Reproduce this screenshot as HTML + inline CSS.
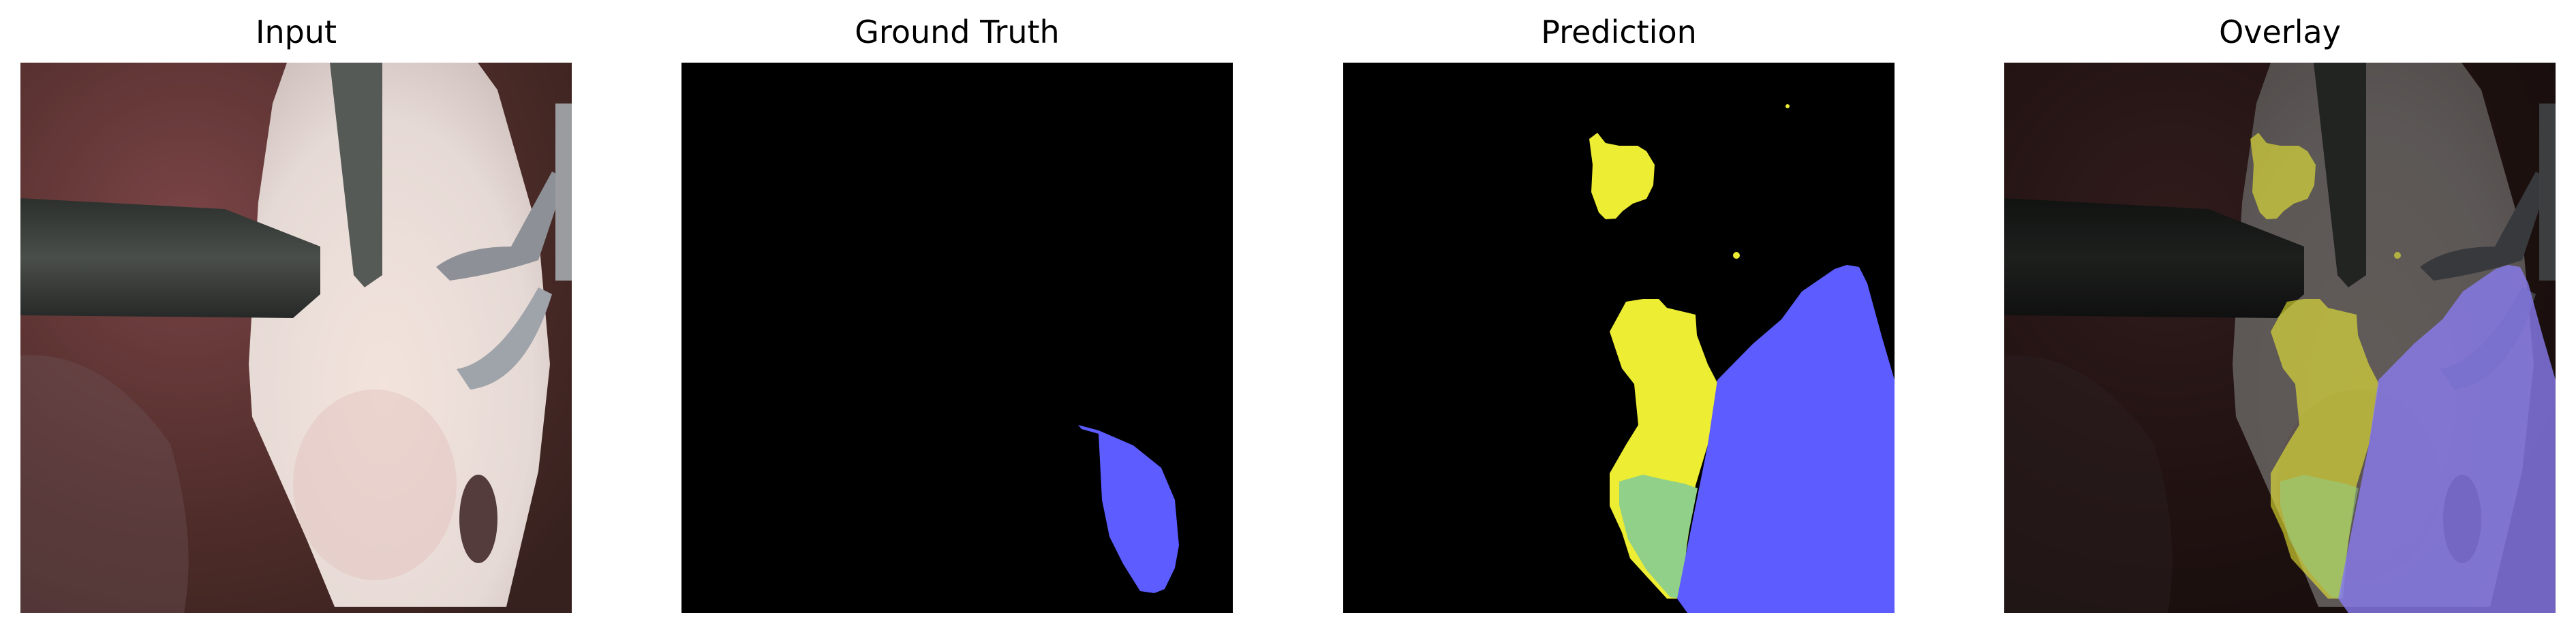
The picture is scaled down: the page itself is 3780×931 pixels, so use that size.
<!DOCTYPE html>
<html><head><meta charset="utf-8"><style>
body{margin:0;background:#fff;width:3780px;height:931px;overflow:hidden;position:relative;font-family:"Liberation Sans","DejaVu Sans",sans-serif}
.t{position:absolute;top:20px;width:809px;text-align:center;font-size:46px;color:#000;font-family:"DejaVu Sans","Liberation Sans",sans-serif}
svg.p{position:absolute;top:92px;width:809px;height:808px}
</style></head><body>
<svg width="0" height="0" style="position:absolute"><defs>
<radialGradient id="bg" cx="0.3" cy="0.3" r="0.9"><stop offset="0" stop-color="#7a4446"/><stop offset="0.6" stop-color="#4e2c29"/><stop offset="1" stop-color="#36211e"/></radialGradient>
<radialGradient id="org" cx="0.45" cy="0.6" r="0.7"><stop offset="0" stop-color="#f3e3dc"/><stop offset="0.7" stop-color="#e6dad6"/><stop offset="1" stop-color="#cdbfbc"/></radialGradient>
<linearGradient id="inst" x1="0" y1="0" x2="0" y2="1"><stop offset="0" stop-color="#2c302d"/><stop offset="0.5" stop-color="#4a4e4a"/><stop offset="1" stop-color="#262927"/></linearGradient>
<g id="scene">
<rect width="809" height="808" fill="url(#bg)"/>
<path d="M0,430 Q120,420 220,560 Q260,700 240,808 L0,808Z" fill="#6a4e52" opacity="0.45"/>
<polygon points="391,0 671,0 700,40 760,250 777,443 760,600 713,799 461,799 420,700 340,520 335,443 349,205 370,60" fill="url(#org)"/>
<ellipse cx="520" cy="620" rx="120" ry="140" fill="#e3c3bf" opacity="0.5"/>
<ellipse cx="672" cy="670" rx="28" ry="65" fill="#3a2022" opacity="0.85"/>
<polygon points="0,199 300,215 440,270 440,340 400,375 0,371" fill="url(#inst)"/>
<polygon points="454,0 531,0 531,312 505,330 489,312" fill="#555a56"/>
<path d="M610,300 Q650,270 720,270 L780,160 L800,170 L760,290 Q700,310 630,320Z" fill="#8d9096"/>
<path d="M640,450 Q700,440 760,330 L780,340 Q740,470 660,480Z" fill="#9fa3aa"/>
<rect x="785" y="60" width="24" height="260" fill="#9a9ca0"/>
</g>
</defs></svg>

<div class="t" style="left:30px">Input</div>
<div class="t" style="left:1000px">Ground Truth</div>
<div class="t" style="left:1971px">Prediction</div>
<div class="t" style="left:2941px">Overlay</div>

<svg class="p" style="left:30px" viewBox="0 0 809 808" preserveAspectRatio="none"><use href="#scene"/></svg>

<svg class="p" style="left:1000px" viewBox="0 0 809 808" preserveAspectRatio="none">
<rect width="809" height="808" fill="#000"/>
<polygon fill="#5c5cff" points="582,532 612,540 663,562 704,595 724,642 730,709 724,742 709,773 694,779 673,776 648,736 628,696 617,642 612,545 587,538"/>
</svg>

<svg class="p" style="left:1971px" viewBox="0 0 809 808" preserveAspectRatio="none">
<rect width="809" height="808" fill="#000"/>
<g fill="#eded33">
<polygon points="361,112 373,103 385,118 405,122 432,122 445,130 457,150 455,180 445,200 425,207 410,218 400,229 385,230 375,220 364,190 366,150"/>
<polygon points="415,351 440,347 463,347 475,360 517,370 519,400 535,443 550,472 535,561 517,621 493,787 475,787 421,728 409,690 391,651 391,603 415,561 433,532 427,472 409,449 391,395"/>
<circle cx="577" cy="283" r="5"/><circle cx="652" cy="64" r="3"/>
</g>
<polygon fill="#90d088" points="405,615 440,605 470,612 500,618 520,625 505,700 497,787 480,785 445,745 418,700 405,650"/>
<polygon fill="#5c5cff" points="739,297 721,303 673,336 643,377 601,413 549,466 535,561 517,651 490,787 505,808 809,808 809,466 790,401 769,324 757,300"/>
</svg>

<svg class="p" style="left:2941px" viewBox="0 0 809 808" preserveAspectRatio="none">
<use href="#scene"/>
<rect width="809" height="808" fill="#000" opacity="0.6"/>
<g fill="#eded33" opacity="0.6">
<polygon points="361,112 373,103 385,118 405,122 432,122 445,130 457,150 455,180 445,200 425,207 410,218 400,229 385,230 375,220 364,190 366,150"/>
<polygon points="415,351 440,347 463,347 475,360 517,370 519,400 535,443 550,472 535,561 517,621 493,787 475,787 421,728 409,690 391,651 391,603 415,561 433,532 427,472 409,449 391,395"/>
<circle cx="577" cy="283" r="5"/>
</g>
<polygon fill="#90d088" opacity="0.5" points="405,615 440,605 470,612 500,618 520,625 505,700 497,787 480,785 445,745 418,700 405,650"/>
<polygon fill="#8a7cf0" opacity="0.8" points="739,297 721,303 673,336 643,377 601,413 549,466 535,561 517,651 490,787 505,808 809,808 809,466 790,401 769,324 757,300"/>
</svg>
</body></html>
